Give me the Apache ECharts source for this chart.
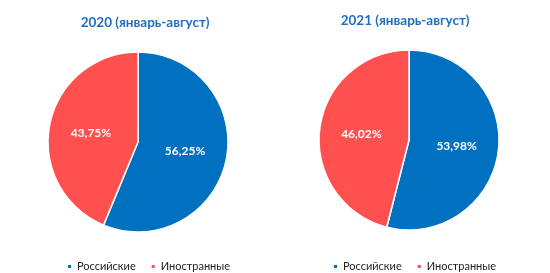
<!DOCTYPE html>
<html>
<head>
<meta charset="utf-8">
<script src="https://cdn.jsdelivr.net/npm/echarts@6/dist/echarts.min.js"></script>
<style>
	html, body { margin: 0; padding: 0; background: #fff; }
	#chart { width: 550px; height: 273px; }
</style>
</head>
<body>
<div id="chart"></div>
<script>
var categories = ['Российские', 'Иностранные']
var years = ['2020 (январь-август)', '2021 (январь-август)']
var values2020 = [56.25, 43.75]
var values2021 = [53.98, 46.02]
var colors = ['#0070C0', '#FF5050']

function toData(vals) {
	return vals.map(function (v, i) {
		return { name: categories[i], value: v }
	})
}

function pieSeries(vals, center) {
	return {
		type: 'pie',
		radius: 90,
		center: center,
		startAngle: 90,
		clockwise: true,
		avoidLabelOverlap: false,
		itemStyle: { borderColor: '#fff', borderWidth: 1.5 },
		label: {
			show: true,
			position: 'inside',
			color: '#fff',
			fontFamily: 'Lato',
			fontSize: 12,
			fontWeight: 'bold',
			formatter: function (p) {
				return p.value.toFixed(2).replace('.', ',') + '%'
			}
		},
		labelLine: { show: false },
		emphasis: { scale: false },
		data: toData(vals)
	}
}

var myChart = echarts.init(document.getElementById('chart'))
var option = {
	color: colors,
	animation: false,
	title: [
		{
			text: years[0], left: 140, top: 11, textAlign: 'center',
			textStyle: { color: '#1F6FBF', fontFamily: 'Lato', fontSize: 13.5, fontWeight: 'bold' }
		},
		{
			text: years[1], left: 400, top: 9, textAlign: 'center',
			textStyle: { color: '#1F6FBF', fontFamily: 'Lato', fontSize: 13.5, fontWeight: 'bold' }
		}
	],
	legend: [
		{
			data: categories, left: 61, top: 256, itemWidth: 5, itemHeight: 5, itemGap: 14,
			icon: 'rect', textStyle: { fontFamily: 'Lato', fontSize: 11, color: '#222' }
		},
		{
			data: categories, left: 327, top: 256, itemWidth: 5, itemHeight: 5, itemGap: 14,
			icon: 'rect', textStyle: { fontFamily: 'Lato', fontSize: 11, color: '#222' }
		}
	],
	series: [
		pieSeries(values2020, [138, 142]),
		pieSeries(values2021, [409, 140])
	]
}
myChart.setOption(option)
</script>
</body>
</html>
